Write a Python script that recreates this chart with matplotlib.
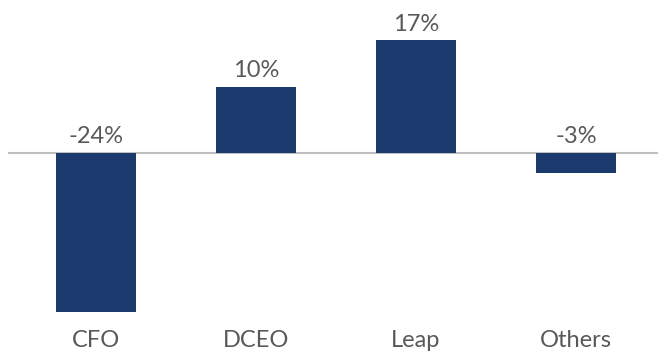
import matplotlib.pyplot as plt

categories = ["CFO", "DCEO", "Leap", "Others"]
values = [-24, 10, 17, -3]
labels = ["-24%", "10%", "17%", "-3%"]

plt.rcParams['font.family'] = ['Lato', 'DejaVu Sans']

fig = plt.figure(figsize=(6.58, 3.52), dpi=100)
# axes in figure fraction: zero line starts at 8 px, bars reach down to ~320 px
ax = fig.add_axes([8 / 658, 32 / 352, 650 / 658, 320 / 352])

x = list(range(len(categories)))
ax.bar(x, values, width=0.5, color="#1c3a6e", zorder=2)
ax.axhline(0, color="#bfbfbf", lw=1.5, zorder=1)

# 160 px per category, first centre at 96 px
ax.set_xlim(-0.55, 3.5125)
px = 6.62  # pixels per percent
ax.set_ylim(-(320 - 153) / px, 153 / px)

for xi, v, lab in zip(x, values, labels):
    base = max(v, 0)
    ax.annotate(lab, (xi, base), xytext=(0, 4), textcoords="offset points",
                ha="center", va="bottom", fontsize=17, color="#595959")

ax.set_xticks(x)
ax.set_xticklabels(categories, fontsize=17, color="#595959")
ax.tick_params(axis="x", length=0, pad=7)
ax.set_yticks([])
for s in ax.spines.values():
    s.set_visible(False)

fig.savefig("out.png", dpi=100)
